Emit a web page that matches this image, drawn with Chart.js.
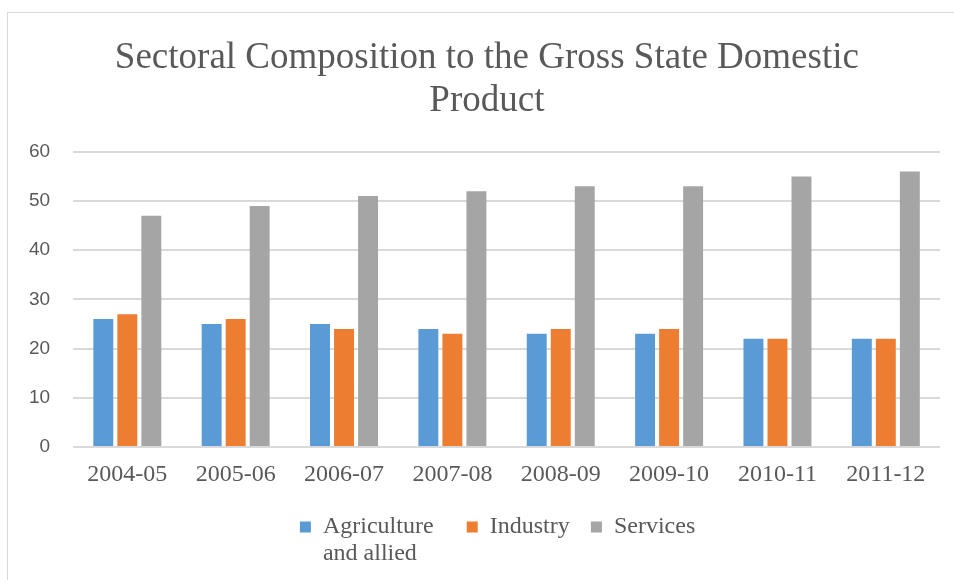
<!DOCTYPE html>
<html>
<head>
<meta charset="utf-8">
<script src="https://cdn.jsdelivr.net/npm/chart.js@4.4.1/dist/chart.umd.min.js"></script>
<style>
  body { margin: 0; background: #fff; overflow: hidden; }
  #frame {
    position: absolute; left: 7px; top: 12px;
    width: 1000px; height: 700px;
    border: 1px solid #d9d9d9;
  }
  #wrap { position: absolute; left: 0; top: 0; width: 954px; height: 580px; }
</style>
</head>
<body>
<div id="frame"></div>
<div id="wrap"><canvas id="chart" width="954" height="580"></canvas></div>
<script>
// Data
var YEARS = ['2004-05', '2005-06', '2006-07', '2007-08', '2008-09', '2009-10', '2010-11', '2011-12'];
var AGRICULTURE = [26, 25, 25, 24, 23, 23, 22, 22];
var INDUSTRY = [27, 26, 24, 23, 24, 24, 22, 22];
var SERVICES = [47, 49, 51, 52, 53, 53, 55, 56];
// trailing spaces only widen the gaps between legend entries
var SERIES_NAMES = ['Agriculture  ', 'Industry', 'Services   '];
var SERIES_COLORS = ['#5b9bd5', '#ed7d31', '#a5a5a5'];
var TITLE_LINES = ['   Sectoral Composition to the Gross State Domestic', '   Product'];

var TEXT_COLOR = '#595959';
var GRID_COLOR = '#d9d9d9';
var SERIF = "'Liberation Serif', 'Times New Roman', serif";
var SANS = "'Liberation Sans', Arial, sans-serif";
var LEGEND_SIZE = 24;

// second line of the first legend entry ("Agriculture / and allied")
var wrapLegend = {
  id: 'wrapLegend',
  afterDraw: function (chart) {
    var legend = chart.legend;
    if (!legend || !legend.legendHitBoxes.length) { return; }
    var box = legend.legendHitBoxes[0];
    var opts = legend.options.labels;
    var ctx = chart.ctx;
    ctx.save();
    ctx.font = LEGEND_SIZE + 'px ' + SERIF;
    ctx.fillStyle = TEXT_COLOR;
    ctx.textBaseline = 'middle';
    ctx.textAlign = 'left';
    ctx.fillText('and allied', box.left + opts.boxWidth + LEGEND_SIZE / 2,
      box.top + box.height / 2 + LEGEND_SIZE * 1.1);
    ctx.restore();
  }
};

var datasets = [AGRICULTURE, INDUSTRY, SERVICES].map(function (values, i) {
  return {
    label: SERIES_NAMES[i],
    data: values,
    backgroundColor: SERIES_COLORS[i],
    borderWidth: 0,
    barPercentage: 0.83,
    categoryPercentage: 0.665
  };
});

new Chart(document.getElementById('chart'), {
  type: 'bar',
  data: { labels: YEARS, datasets: datasets },
  plugins: [wrapLegend],
  options: {
    responsive: false,
    animation: false,
    layout: { padding: { top: 20, right: 14, bottom: 31, left: 6 } },
    plugins: {
      tooltip: { enabled: false },
      title: {
        display: true,
        text: TITLE_LINES,
        color: TEXT_COLOR,
        font: { family: SERIF, size: 37, weight: 'normal', lineHeight: 1.16 },
        padding: { top: 17, bottom: 29 }
      },
      legend: {
        position: 'bottom',
        fullSize: false,
        labels: {
          color: TEXT_COLOR,
          font: { family: SERIF, size: LEGEND_SIZE },
          boxWidth: 11,
          boxHeight: 11,
          padding: 21.2
        }
      }
    },
    scales: {
      x: {
        grid: { display: false },
        border: { display: false },
        ticks: { color: TEXT_COLOR, font: { family: SERIF, size: 24 }, padding: 5 }
      },
      y: {
        min: 0,
        max: 60,
        ticks: { stepSize: 10, color: TEXT_COLOR, font: { family: SANS, size: 19 }, padding: 23 },
        grid: { color: GRID_COLOR, lineWidth: 2, drawTicks: false },
        border: { display: false }
      }
    }
  }
});
</script>
</body>
</html>
